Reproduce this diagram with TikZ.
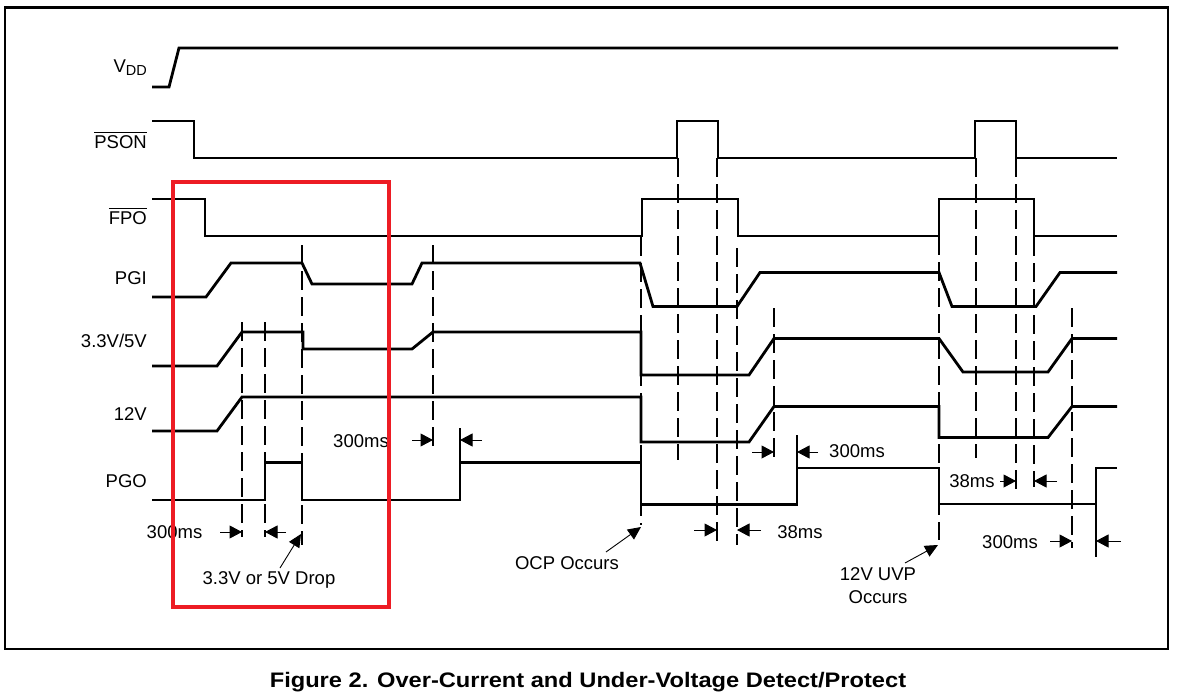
\documentclass[tikz,border=0pt]{standalone}
\usepackage{fontspec}
\setmainfont{Liberation Sans}
\usetikzlibrary{arrows.meta}
\newcommand{\ovlbar}[1]{\vbox{\hrule height 1.2bp\kern 2.6bp\hbox{#1}}}
\definecolor{boxred}{RGB}{237,28,36}
\begin{document}
\begin{tikzpicture}[x=1bp,y=-1bp,
  sig/.style={line width=2.8bp, line join=miter, line cap=butt},
  guide/.style={line width=1.1bp, dash pattern=on 19bp off 7bp},
  tickline/.style={line width=1.1bp},
  dimarrow/.style={line width=1bp,-{Triangle[length=12.5bp,width=13bp]}},
  leader/.style={line width=0.9bp,-{Triangle[length=13bp,width=12bp]}},
  lab/.style={font=\fontsize{18.5bp}{22bp}\selectfont, inner sep=0pt}]
\useasboundingbox (0,0) rectangle (1178,697);
\fill[white] (0,0) rectangle (1178,697);

% frame
\draw[line width=2.8bp] (5,7.5) rectangle (1168,649);

% signal labels
\node[lab, anchor=base east] (lvdd) at (147,73) {V\raisebox{-3bp}{\fontsize{14.5bp}{16bp}\selectfont DD}};
\node[lab, anchor=base east] (lpson) at (147,149) {\ovlbar{PSON}};
\node[lab, anchor=base east] (lfpo) at (147,225) {\ovlbar{FPO}};
\node[lab, anchor=base east] (lpgi) at (147,284) {PGI};
\node[lab, anchor=base east] (l33) at (147,347) {3.3V/5V};
\node[lab, anchor=base east] (l12) at (147,420) {12V};
\node[lab, anchor=base east] (lpgo) at (147,487) {PGO};

% guide (dashed) lines
\foreach \x/\ya/\yb in {242/322/537, 265/322/537, 302/245/545, 433/245/450,
  641/237/525, 678/158/460, 717/158/542, 737/248/545, 774/308/463,
  939/236/540, 976/158/458, 1016/158/490, 1034/237/487, 1072/308/548}
  \draw[guide] (\x,\ya) -- (\x,\yb);

% solid extension ticks
\draw[tickline] (460,428) -- (460,462);
\draw[tickline] (797,435) -- (797,468);
\draw[tickline] (1096,504) -- (1096,557);

% signals
\draw[sig] (152,87) -- (169,87) -- (179,48) -- (1118,48);
\draw[sig] (152,121) -- (194,121) -- (194,158) -- (677,158) -- (677,121) -- (718,121) -- (718,158)
  -- (975,158) -- (975,121) -- (1016,121) -- (1016,158) -- (1117,158);
\draw[sig] (152,199) -- (205,199) -- (205,236) -- (642,236) -- (642,199) -- (738,199) -- (738,236)
  -- (939,236) -- (939,199) -- (1034,199) -- (1034,236) -- (1117,236);
\draw[sig] (152,297) -- (206,297) -- (231,263) -- (302,263) -- (312,284) -- (412,284) -- (422,263)
  -- (640,263) -- (653,306.5) -- (737,306.5) -- (760,272.5) -- (939,272.5) -- (952,306.5)
  -- (1036,306.5) -- (1060,272.5) -- (1117,272.5);
\draw[sig] (152,366) -- (217,366) -- (242,332) -- (303,332) -- (303,349) -- (412,349) -- (433,332)
  -- (641,332) -- (641,375) -- (749,375) -- (774,338.5) -- (939,338.5) -- (963,372)
  -- (1048,372) -- (1072,338.5) -- (1117,338.5);
\draw[sig] (152,431) -- (217,431) -- (242,397) -- (641,397) -- (641,442) -- (749,442) -- (774,406.5)
  -- (939,406.5) -- (939,437.5) -- (1048,437.5) -- (1072,406.5) -- (1117,406.5);
\draw[sig] (152,500) -- (265,500) -- (265,462.5) -- (302,462.5) -- (302,500) -- (460,500) -- (460,462.5)
  -- (641,462.5) -- (641,504.5) -- (797,504.5) -- (797,468) -- (939,468) -- (939,504)
  -- (1096,504) -- (1096,468) -- (1117,468);

% dimension arrows
\draw[dimarrow] (220,532) -- (242,532);
\draw[dimarrow] (286,532) -- (265,532);
\draw[dimarrow] (412,440) -- (433,440);
\draw[dimarrow] (482,440) -- (460,440);
\draw[dimarrow] (694,530) -- (717,530);
\draw[dimarrow] (761,530) -- (737,530);
\draw[dimarrow] (752,452) -- (774,452);
\draw[dimarrow] (818,452) -- (797,452);
\draw[dimarrow] (1000,481) -- (1016,481);
\draw[dimarrow] (1057,481) -- (1034,481);
\draw[dimarrow] (1050,541) -- (1072,541);
\draw[dimarrow] (1121,541) -- (1096,541);

% annotation texts
\node[lab, anchor=base] (t300a) at (174.5,538) {300ms};
\node[lab, anchor=base] (tdrop) at (269,584) {3.3V or 5V Drop};
\node[lab, anchor=base] (t300b) at (361,447) {300ms};
\node[lab, anchor=base] (tocp) at (567,569) {OCP Occurs};
\node[lab, anchor=base] (t38a) at (800,538) {38ms};
\node[lab, anchor=base] (t300c) at (857,457) {300ms};
\node[lab, anchor=base] (t38b) at (972,487) {38ms};
\node[lab, anchor=base] (t300d) at (1010,548) {300ms};
\node[lab, anchor=base] (tuvp) at (878,580) {12V UVP};
\node[lab, anchor=base] (tocc) at (878,603) {Occurs};

% leaders
\coordinate (dropA) at (280,568);
\coordinate (dropT) at (301,534);
\coordinate (ocpA) at (606,552);
\coordinate (ocpT) at (641,527);
\coordinate (uvpA) at (905,563);
\coordinate (uvpT) at (938,545);
\draw[leader] (dropA) -- (dropT);
\draw[leader] (ocpA) -- (ocpT);
\draw[leader] (uvpA) -- (uvpT);

% red highlight box
\draw[boxred, line width=4bp] (173,182) rectangle (389,607);

% caption
\node[inner sep=0pt, anchor=base] (title) at (588,687)
  {\scalebox{1.126}[1]{\fontsize{21bp}{25bp}\selectfont\bfseries Figure 2. Over-Current and Under-Voltage Detect/Protect}};
\end{tikzpicture}
\end{document}
